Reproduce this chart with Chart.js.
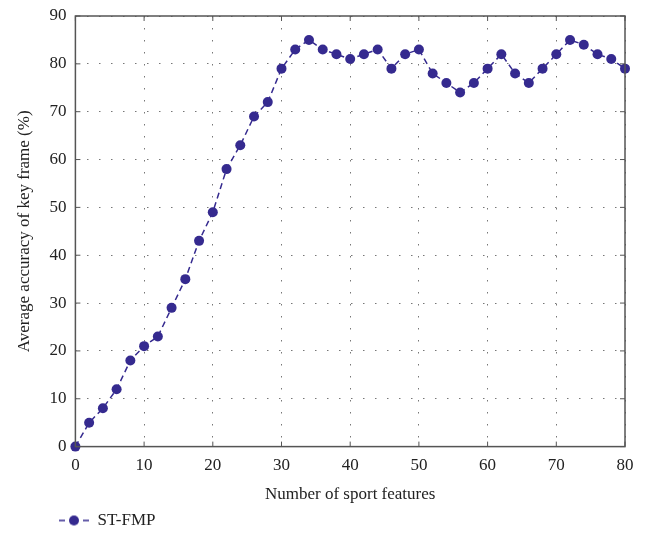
<!DOCTYPE html>
<html>
<head>
<meta charset="utf-8">
<script src="https://cdn.jsdelivr.net/npm/chart.js@4"></script>
<style>
  html, body { margin: 0; padding: 0; background: #fff; }
  #wrap { width: 648px; height: 533px; }
</style>
</head>
<body>
<div id="wrap"><canvas id="chart"></canvas></div>
<script>
const features = [0, 2, 4, 6, 8, 10, 12, 14, 16, 18, 20, 22, 24, 26, 28, 30, 32, 34, 36, 38, 40,
  42, 44, 46, 48, 50, 52, 54, 56, 58, 60, 62, 64, 66, 68, 70, 72, 74, 76, 78, 80];
const accuracy = [0, 5, 8, 12, 18, 21, 23, 29, 35, 43, 49, 58, 63, 69, 72, 79, 83, 85, 83, 82, 81,
  82, 83, 79, 82, 83, 78, 76, 74, 76, 79, 82, 78, 76, 79, 82, 85, 84, 82, 81, 79];
const xTicks = [0, 10, 20, 30, 40, 50, 60, 70, 80];
const yTicks = [0, 10, 20, 30, 40, 50, 60, 70, 80, 90];
const seriesName = 'ST-FMP';

const markColor = '#352a8f';
const frameColor = '#555';
const fontFamily = '"Liberation Serif", "DejaVu Serif", serif';

// legend icon: dash - dot - dash, drawn to the right of a blank margin
const legendIcon = document.createElement('canvas');
legendIcon.width = 71;
legendIcon.height = 14;
(() => {
  const c = legendIcon.getContext('2d');
  c.strokeStyle = markColor;
  c.lineWidth = 1.5;
  c.beginPath();
  c.moveTo(41, 7); c.lineTo(47, 7);
  c.moveTo(65, 7); c.lineTo(71, 7);
  c.stroke();
  c.fillStyle = markColor;
  c.beginPath();
  c.arc(56, 7, 5, 0, Math.PI * 2);
  c.fill();
})();

// frame with inward ticks on all four sides
const framePlugin = {
  id: 'frame',
  afterDraw(chart) {
    const { ctx, chartArea: a, scales } = chart;
    ctx.save();
    ctx.strokeStyle = frameColor;
    ctx.lineWidth = 1.5;
    ctx.strokeRect(a.left, a.top, a.right - a.left, a.bottom - a.top);
    ctx.lineWidth = 1;
    ctx.beginPath();
    xTicks.forEach(v => {
      const px = scales.x.getPixelForValue(v);
      ctx.moveTo(px, a.bottom); ctx.lineTo(px, a.bottom - 5);
      ctx.moveTo(px, a.top); ctx.lineTo(px, a.top + 5);
    });
    yTicks.forEach(v => {
      const py = scales.y.getPixelForValue(v);
      ctx.moveTo(a.left, py); ctx.lineTo(a.left + 5, py);
      ctx.moveTo(a.right, py); ctx.lineTo(a.right - 5, py);
    });
    ctx.stroke();
    ctx.restore();
  }
};

new Chart(document.getElementById('chart'), {
  type: 'line',
  data: {
    datasets: [{
      label: seriesName,
      data: features.map((x, i) => ({ x, y: accuracy[i] })),
      borderColor: markColor,
      backgroundColor: markColor,
      borderWidth: 1.5,
      borderDash: [6, 4],
      pointRadius: 5,
      pointHoverRadius: 5,
      pointBorderWidth: 0,
      tension: 0,
      clip: false
    }]
  },
  options: {
    responsive: true,
    maintainAspectRatio: false,
    animation: false,
    layout: { padding: { top: 16, right: 23, left: 14, bottom: -6 } },
    plugins: {
      tooltip: { enabled: false },
      legend: {
        position: 'bottom',
        align: 'start',
        labels: {
          usePointStyle: true,
          pointStyle: legendIcon,
          pointStyleWidth: 71,
          boxHeight: 14,
          padding: 4,
          color: '#222',
          font: { family: fontFamily, size: 17, lineHeight: 1 }
        }
      }
    },
    scales: {
      x: {
        type: 'linear',
        min: 0,
        max: 80,
        afterBuildTicks: s => { s.ticks = xTicks.map(value => ({ value })); },
        grid: { color: '#777', lineWidth: 1, drawTicks: false },
        border: { display: false, dash: [1.5, 10.5] },
        ticks: { color: '#222', padding: 12, font: { family: fontFamily, size: 17, lineHeight: 0.8 } },
        title: {
          display: true,
          text: 'Number of sport features',
          color: '#222',
          padding: { top: 0, bottom: 3.4 },
          font: { family: fontFamily, size: 17 }
        }
      },
      y: {
        min: 0,
        max: 90,
        afterBuildTicks: s => { s.ticks = yTicks.map(value => ({ value })); },
        grid: { color: '#777', lineWidth: 1, drawTicks: false },
        border: { display: false, dash: [1.5, 10.5] },
        ticks: { color: '#222', padding: 9, font: { family: fontFamily, size: 17, lineHeight: 0.6 } },
        title: {
          display: true,
          text: 'Average accuracy of key frame (%)',
          color: '#222',
          padding: { top: 0, bottom: 6 },
          font: { family: fontFamily, size: 17 }
        }
      }
    }
  },
  plugins: [framePlugin]
});
</script>
</body>
</html>
